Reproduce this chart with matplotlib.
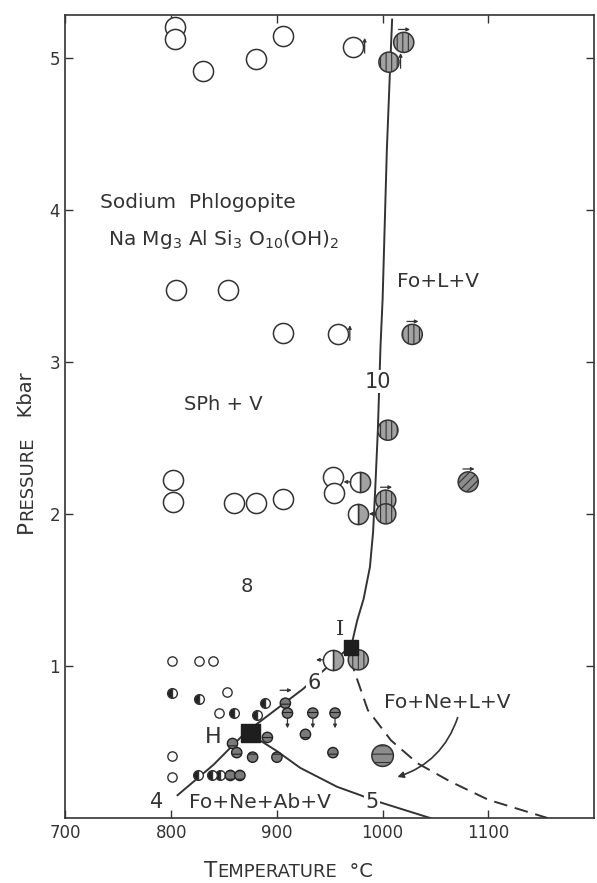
import matplotlib
matplotlib.use("Agg")
import matplotlib.pyplot as plt

# --- data (temperature degC, pressure kbar) ---
open_T = [804, 804, 830, 880, 906, 972, 805, 854, 906, 958, 802, 802, 859, 880, 906, 953, 954]
open_P = [5.20, 5.12, 4.91, 4.99, 5.14, 5.07, 3.47, 3.47, 3.19, 3.18, 2.22, 2.08, 2.07, 2.07, 2.10, 2.24, 2.14]

melt_T = [1020, 1006, 1028, 1005, 1003, 1003, 977]
melt_P = [5.10, 4.97, 3.18, 2.55, 2.09, 2.00, 1.04]

half_T = [979, 977, 953]
half_P = [2.21, 2.00, 1.04]

horiz_T = [1000]
horiz_P = [0.41]

diag_T = [1081]
diag_P = [2.21]

small_open_T = [801, 826, 840, 853, 801, 845, 801]
small_open_P = [1.03, 1.03, 1.03, 0.83, 0.41, 0.69, 0.27]

small_half_T = [801, 826, 859, 881, 889, 825, 839, 846]
small_half_P = [0.82, 0.78, 0.69, 0.68, 0.755, 0.28, 0.28, 0.28]

small_gray_T = [908, 910, 934, 955, 891, 927, 953, 877, 900, 856, 865, 858, 862]
small_gray_P = [0.755, 0.69, 0.69, 0.69, 0.53, 0.55, 0.43, 0.40, 0.40, 0.28, 0.28, 0.49, 0.43]

square_T = [875, 970]
square_P = [0.56, 1.12]

# curves
main_T = [970, 976, 982, 988, 991, 993, 995.5, 998, 1000, 1004, 1007, 1009]
main_P = [1.12, 1.30, 1.44, 1.65, 1.88, 2.16, 2.55, 3.10, 3.41, 4.39, 4.92, 5.25]

line6_T = [806, 840, 870, 925, 968]
line6_P = [0.15, 0.35, 0.56, 0.85, 1.12]

line5_T = [875, 900, 922, 957, 979, 990, 1006, 1045]
line5_P = [0.55, 0.44, 0.33, 0.205, 0.15, 0.12, 0.085, 0.0]

dash_T = [969, 986, 1008, 1033, 1064, 1100, 1156]
dash_P = [1.05, 0.71, 0.51, 0.36, 0.24, 0.12, 0.0]

# little arrows beside points: (T, P, direction)
arrows = [(972, 5.07, "up"), (1006, 4.97, "up"), (958, 3.18, "up"),
          (1020, 5.10, "right"), (1028, 3.18, "right"), (1081, 2.21, "right"),
          (1003, 2.09, "right"), (979, 2.21, "left"), (953, 1.04, "left"),
          (1003, 2.00, "left"), (910, 0.69, "down"), (934, 0.69, "down"),
          (955, 0.69, "down"), (908, 0.755, "right")]

ink = "#333333"
plt.rcParams["hatch.linewidth"] = 0.8
plt.rcParams["font.family"] = "DejaVu Sans"

fig = plt.figure(figsize=(5.97, 8.83), dpi=100)
ax = fig.add_axes([0.1097, 0.0736, 0.8853, 0.9094])

# curves
ax.plot(main_T, main_P, color=ink, lw=1.4, zorder=2)
ax.plot(line6_T, line6_P, color=ink, lw=1.4, zorder=2)
ax.plot(line5_T, line5_P, color=ink, lw=1.4, zorder=2)
ax.plot(dash_T, dash_P, color=ink, lw=1.4, ls=(0, (7, 4)), zorder=2)

# markers
ax.scatter(open_T, open_P, s=210, facecolors="white", edgecolors=ink, linewidths=1.1, zorder=3)
ax.scatter(melt_T, melt_P, s=210, facecolors="#a2a2a2", edgecolors=ink, linewidths=1.1,
           hatch="|||", zorder=3)
ax.plot(half_T, half_P, ls="none", marker="o", ms=14.5, fillstyle="right",
        markerfacecolor="#a2a2a2", markerfacecoloralt="white", markeredgecolor=ink,
        markeredgewidth=1.1, zorder=3)
ax.scatter(horiz_T, horiz_P, s=240, facecolors="#8c8c8c", edgecolors=ink, linewidths=1.1,
           hatch="--", zorder=3)
ax.scatter(diag_T, diag_P, s=210, facecolors="#8c8c8c", edgecolors=ink, linewidths=1.1,
           hatch="////", zorder=3)
ax.scatter(small_open_T, small_open_P, s=45, facecolors="white", edgecolors=ink,
           linewidths=1.0, zorder=3)
ax.plot(small_half_T, small_half_P, ls="none", marker="o", ms=7, fillstyle="left",
        markerfacecolor="#222222", markerfacecoloralt="white", markeredgecolor=ink,
        markeredgewidth=1.0, zorder=3)
ax.scatter(small_gray_T, small_gray_P, s=55, facecolors="#7a7a7a", edgecolors="#222222",
           linewidths=1.0, hatch="--", zorder=3)
ax.scatter(square_T, square_P, s=[170, 110], marker="s", color="#1e1e1e", zorder=4)

# small arrows (offsets in data units: x0, y0, x1, y1)
step = {"up": (11, -0.04, 11, 0.06), "right": (-5, 0.085, 6, 0.085),
        "left": (-9, 0.0, -16, 0.0), "down": (0, -0.04, 0, -0.10)}
for t, p, d in arrows:
    x0, y0, x1, y1 = step[d]
    ax.annotate("", xy=(t + x1, p + y1), xytext=(t + x0, p + y0),
                arrowprops=dict(arrowstyle="-|>", color=ink, lw=0.9,
                                mutation_scale=5, shrinkA=0, shrinkB=0), zorder=5)

# curved arrow to the Fo+Ne+L+V field
ax.annotate("", xy=(1014, 0.27), xytext=(1071, 0.66),
            arrowprops=dict(arrowstyle="-|>", color=ink, lw=1.2, mutation_scale=9,
                            connectionstyle="arc3,rad=-0.25", shrinkA=0, shrinkB=0))

# field labels
fs = 14.5
ax.text(733, 4.01, "Sodium  Phlogopite", fontsize=fs, color=ink, ha="left", va="baseline")
ax.text(740, 3.77, r"Na Mg$_3$ Al Si$_3$ O$_{10}$(OH)$_2$", fontsize=fs, color=ink,
        ha="left", va="baseline")
ax.text(1014, 3.49, "Fo+L+V", fontsize=fs, color=ink, ha="left", va="baseline")
ax.text(849, 2.72, "SPh + V", fontsize=14, color=ink, ha="center", va="center")
ax.text(1061, 0.76, "Fo+Ne+L+V", fontsize=fs, color=ink, ha="center", va="center")
ax.text(884, 0.105, "Fo+Ne+Ab+V", fontsize=fs, color=ink, ha="center", va="center")

# curve numbers and points
white = dict(facecolor="white", edgecolor="none", pad=1)
ax.text(996, 2.87, "10", fontsize=15, color=ink, ha="center", va="center", bbox=white, zorder=3)
ax.text(935, 0.89, "6", fontsize=15, color=ink, ha="center", va="center", bbox=white, zorder=3)
ax.text(990, 0.105, "5", fontsize=15, color=ink, ha="center", va="center", bbox=white, zorder=3)
ax.text(786, 0.105, "4", fontsize=15, color=ink, ha="center", va="center")
ax.text(872, 1.52, "8", fontsize=14, color=ink, ha="center", va="center")
ax.text(840, 0.53, "H", fontsize=16, color=ink, ha="center", va="center")
ax.text(960, 1.24, "I", fontsize=15, color=ink, ha="center", va="center", family="DejaVu Serif")

# axes
ax.set_xlim(700, 1200)
ax.set_ylim(0, 5.28)
ax.set_xticks([700, 800, 900, 1000, 1100])
ax.set_yticks([1, 2, 3, 4, 5])
ax.tick_params(direction="in", length=6, width=1.0, colors=ink, labelsize=12,
               top=True, right=True, pad=4)
for sp in ax.spines.values():
    sp.set_color(ink)
    sp.set_linewidth(1.2)

# small-caps style axis titles
t0 = fig.text(204 / 597, 1 - 871 / 883, "T", fontsize=15.5, color=ink, ha="left", va="center")
t1 = ax.annotate("EMPERATURE", xy=(1, 0), xycoords=t0, fontsize=13, color=ink,
                 ha="left", va="bottom", annotation_clip=False)
ax.annotate("  °C", xy=(1, 0), xycoords=t1, fontsize=14, color=ink,
            ha="left", va="bottom", annotation_clip=False)

p0 = fig.text(26 / 597, 1 - 533 / 883, "P", fontsize=15.5, color=ink, rotation=90,
              ha="center", va="bottom")
p1 = ax.annotate("RESSURE", xy=(1, 1), xycoords=p0, fontsize=13, color=ink, rotation=90,
                 ha="right", va="bottom", annotation_clip=False)
ax.annotate("   Kbar", xy=(1, 1), xycoords=p1, fontsize=14, color=ink, rotation=90,
            ha="right", va="bottom", annotation_clip=False)

fig.savefig("out.png", dpi=100)
